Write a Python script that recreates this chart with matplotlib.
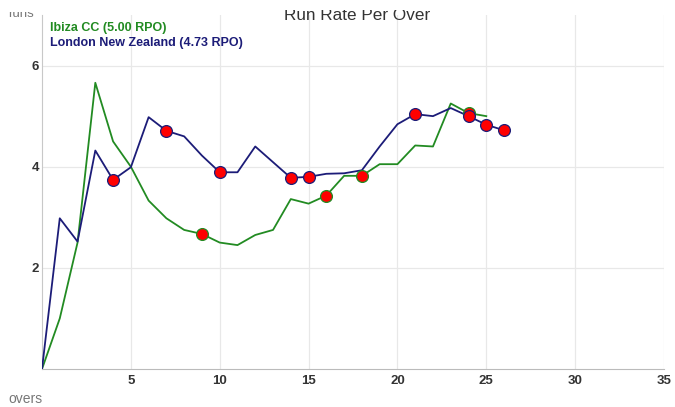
import matplotlib
matplotlib.use("Agg")
import matplotlib.pyplot as plt
from matplotlib.transforms import Bbox, TransformedBbox

plt.rcParams['font.family'] = ['Liberation Sans', 'DejaVu Sans']

overs_ibiza = list(range(0, 26))
rr_ibiza = [0, 1.0, 2.5, 5.66, 4.5, 4.0, 3.33, 2.98, 2.75, 2.67, 2.5, 2.45, 2.65, 2.75,
            3.36, 3.27, 3.43, 3.82, 3.82, 4.05, 4.05, 4.42, 4.40, 5.25, 5.06, 5.0]
wk_ibiza = [9, 16, 18, 24]

overs_london = list(range(0, 27))
rr_london = [0, 2.98, 2.52, 4.32, 3.74, 3.99, 4.98, 4.71, 4.6, 4.22, 3.89, 3.89, 4.40, 4.09,
             3.78, 3.80, 3.86, 3.87, 3.93, 4.40, 4.84, 5.04, 5.0, 5.16, 5.0, 4.83, 4.72]
wk_london = [4, 7, 10, 14, 15, 21, 24, 25, 26]

labels = ["Ibiza CC (5.00 RPO)", "London New Zealand (4.73 RPO)"]
colors = ["#228b22", "#1c1c78"]

xticks = [5, 10, 15, 20, 25, 30, 35]
yticks = [2, 4, 6]

W, H = 675, 407
fig = plt.figure(figsize=(W / 100, H / 100), dpi=100)
ax = fig.add_axes([42 / W, 1 - 369 / H, (664 - 42) / W, (369 - 15) / H])
ax.set_xlim(0, 35)
ax.set_ylim(0, 7)

for xs, ys, wk, c in [(overs_ibiza, rr_ibiza, wk_ibiza, colors[0]),
                      (overs_london, rr_london, wk_london, colors[1])]:
    ax.plot(xs, ys, color=c, lw=1.3, zorder=3)
    ax.plot(wk, [ys[xs.index(w)] for w in wk], 'o', ms=8.5, mfc='#ff0000',
            mec=c, mew=0.9, zorder=4, linestyle='none')

ax.set_xticks(xticks)
ax.set_yticks(yticks)
ax.set_xticklabels([str(t) for t in xticks], fontsize=9.5, fontweight='bold', color='#333333')
ax.set_yticklabels([str(t) for t in yticks], fontsize=9.5, fontweight='bold', color='#333333')
ax.tick_params(axis='x', length=0, pad=4)
ax.tick_params(axis='y', length=0, pad=2)
ax.grid(True, color='#e8e8e8', lw=0.9)
ax.set_axisbelow(True)
for s in ['top', 'right']:
    ax.spines[s].set_visible(False)
ax.spines['left'].set_color('#c8c8c8')
ax.spines['bottom'].set_color('#bbbbbb')


def clipped(t, top_px):
    t.set_clip_box(TransformedBbox(Bbox([[0, 0], [1, 1 - top_px / H]]), fig.transFigure))
    t.set_clip_on(True)


t = fig.text(357.5 / W, 1 - 20.5 / H, "Run Rate Per Over", ha='center', va='baseline',
             fontsize=12.3, color='#333333')
clipped(t, 9.5)
t = fig.text(8 / W, 1 - 17 / H, "runs", ha='left', va='baseline', fontsize=9.5, color='#777777')
clipped(t, 12)
fig.text(8 / W, 1 - 403 / H, "overs", ha='left', va='baseline', fontsize=10, color='#777777')
fig.text(50 / W, 1 - 28 / H, labels[0], ha='left', va='center', fontsize=9, fontweight='bold',
         color=colors[0])
fig.text(50 / W, 1 - 43 / H, labels[1], ha='left', va='center', fontsize=9, fontweight='bold',
         color=colors[1])

fig.savefig("out.png", dpi=100)
